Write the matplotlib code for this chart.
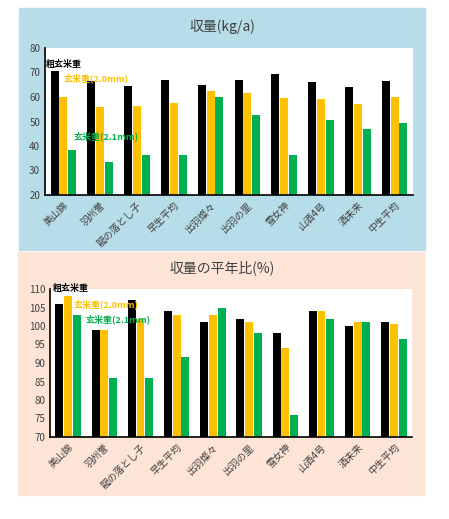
import numpy as np
import matplotlib.pyplot as plt
from matplotlib.patches import Rectangle

plt.rcParams['font.family'] = ['Noto Sans CJK JP', 'DejaVu Sans']

categories = ['美山錦', '羽州誉', '龍の落とし子', '早生平均', '出羽燦々',
              '出羽の里', '雪女神', '山酒4号', '酒未来', '中生平均']
series_names = ['粗玄米重', '玄米重(2.0mm)', '玄米重(2.1mm)']
colors = ['#000000', '#ffc000', '#00b050']

yield_kg = [
    [70.5, 66.5, 64.5, 67.0, 65.0, 67.0, 69.5, 66.0, 64.0, 66.5],
    [60.0, 56.0, 56.5, 57.5, 62.5, 61.5, 59.5, 59.0, 57.0, 60.0],
    [38.5, 33.5, 36.5, 36.5, 60.0, 52.5, 36.5, 50.5, 47.0, 49.5],
]
ratio_pct = [
    [106, 99, 107, 104, 101, 102, 98, 104, 100, 101],
    [108, 99, 102, 103, 103, 101, 94, 104, 101, 100.5],
    [103, 86, 86, 91.5, 105, 98, 76, 102, 101, 96.5],
]

W, H = 449, 519
fig = plt.figure(figsize=(W / 100, H / 100), dpi=100)

def px(x0, y0, x1, y1):
    return [x0 / W, 1 - y1 / H, (x1 - x0) / W, (y1 - y0) / H]

# panel backgrounds
fig.patches.append(Rectangle((19 / W, 1 - 250 / H), 406 / W, 242 / H,
                             transform=fig.transFigure, color='#b7dde8', zorder=-5))
fig.patches.append(Rectangle((18 / W, 1 - 495 / H), 406 / W, 243 / H,
                             transform=fig.transFigure, color='#fce4d6', zorder=-5))

def draw(rect, data, ylim, step, title, title_y, label_pos):
    ax = fig.add_axes(px(*rect))
    ax.set_zorder(1)
    x = np.arange(len(categories))
    for i, vals in enumerate(data):
        ax.bar(x + (i - 1) * 0.24, vals, 0.22, color=colors[i], zorder=2)
    ax.set_ylim(*ylim)
    ax.set_xlim(-0.5, len(categories) - 0.5)
    ax.set_yticks(np.arange(ylim[0], ylim[1] + 1, step))
    ax.set_xticks(x)
    ax.set_xticklabels(categories, rotation=45, ha='right', rotation_mode='anchor',
                       fontsize=7, color='#404040')
    ax.tick_params(axis='y', labelsize=7, colors='#404040', length=0)
    ax.tick_params(axis='x', length=0)
    for s in ['top', 'right']:
        ax.spines[s].set_visible(False)
    ax.spines['left'].set_linewidth(1.2)
    ax.spines['bottom'].set_linewidth(1.2)
    fig.text(0.495, 1 - title_y / H, title, ha='center', va='center', fontsize=10,
             color='#404040')
    for i, (lx, ly) in enumerate(label_pos):
        fig.text(lx / W, 1 - ly / H, series_names[i], fontsize=6.5, color=colors[i],
                 fontweight='bold', va='center', zorder=5)

draw((45, 48, 413, 195), yield_kg, (20, 80), 10, '収量(kg/a)', 27,
     [(46, 65), (63, 78), (74, 136)])
draw((50, 289, 412, 437), ratio_pct, (70, 110), 5, '収量の平年比(%)', 268,
     [(53, 289), (73, 304), (86, 319)])

fig.savefig('out.png', dpi=100)
